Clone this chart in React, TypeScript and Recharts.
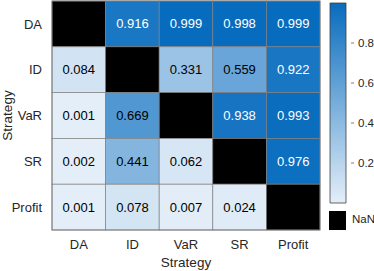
import { ScatterChart, Scatter, XAxis, YAxis, BarChart, Bar } from 'recharts';

// Strategy names (same order for rows and columns)
const strategies = ['DA', 'ID', 'VaR', 'SR', 'Profit'];

// matrix rows, null = NaN on the diagonal
const rowDA = [null, 0.916, 0.999, 0.998, 0.999];
const rowID = [0.084, null, 0.331, 0.559, 0.922];
const rowVaR = [0.001, 0.669, null, 0.938, 0.993];
const rowSR = [0.002, 0.441, 0.062, null, 0.976];
const rowProfit = [0.001, 0.078, 0.007, 0.024, null];
const matrix = [rowDA, rowID, rowVaR, rowSR, rowProfit];

const colorbarTicks = [0.2, 0.4, 0.6, 0.8];

const LIGHT = [228, 238, 248];
const DARK = [8, 108, 190];
const FONT = '"Liberation Sans", Arial, sans-serif';
const TXT = '#262626';

const W = 374;
const H = 271;
const PLOT_W = 268;
const PLOT_H = 229;
const CELL_W = PLOT_W / strategies.length;
const CELL_H = PLOT_H / strategies.length;

function colorFor(v: number) {
  const c = LIGHT.map((l, i) => Math.round(l + (DARK[i] - l) * v));
  return `rgb(${c[0]},${c[1]},${c[2]})`;
}

const cells = matrix.flatMap((row, r) =>
  row.map((v, c) => ({ x: c + 0.5, y: r + 0.5, v }))
);

const centers = strategies.map((_, i) => i + 0.5);
const nameAt = (t: number) => strategies[Math.floor(t)] ?? '';

function HeatCell(props: any) {
  const { cx, cy, payload } = props;
  const v = payload.v as number | null;
  const fill = v == null ? '#000000' : colorFor(v);
  return (
    <g>
      <rect
        x={cx - CELL_W / 2}
        y={cy - CELL_H / 2}
        width={CELL_W}
        height={CELL_H}
        fill={fill}
        stroke="#808080"
        strokeWidth={0.7}
      />
      {v != null && (
        <text
          x={cx}
          y={cy}
          textAnchor="middle"
          dominantBaseline="central"
          fontSize={13}
          fontFamily={FONT}
          fill={v > 0.8 ? '#ffffff' : '#000000'}
        >
          {v.toFixed(3)}
        </text>
      )}
    </g>
  );
}

// rotated y label, centred on the plot height
function YLabel(props: any) {
  const vb = props.viewBox || {};
  const x = 7;
  const y = vb.y + vb.height / 2;
  return (
    <text
      x={x}
      y={y}
      transform={`rotate(-90 ${x} ${y})`}
      textAnchor="middle"
      dominantBaseline="central"
      fontSize={13.5}
      fontFamily={FONT}
      fill={TXT}
    >
      Strategy
    </text>
  );
}

function ColorbarTick(props: any) {
  const { x, y, payload } = props;
  return (
    <g>
      <line x1={x - 3} x2={x} y1={y} y2={y} stroke={TXT} strokeWidth={0.6} />
      <text x={x + 4} y={y} dominantBaseline="central" fontSize={11.5} fontFamily={FONT} fill={TXT}>
        {payload.value}
      </text>
    </g>
  );
}

const colorbarData = [{ name: 'cb', range: [0, 1] }];

export default function App() {
  return (
    <div style={{ position: 'absolute', left: 0, top: 0, width: W, height: H, background: '#fff', overflow: 'hidden' }}>
      <div style={{ position: 'absolute', left: 0, top: 0 }}>
        <ScatterChart width={W} height={H} margin={{ top: 1, right: 54, bottom: 1, left: 12 }}>
          <XAxis
            type="number"
            dataKey="x"
            domain={[0, 5]}
            ticks={centers}
            tickFormatter={nameAt}
            axisLine={false}
            tickLine={false}
            height={40}
            tick={{ fontSize: 13, fontFamily: FONT, fill: TXT }}
            tickMargin={4}
            label={{ value: 'Strategy', position: 'insideBottom', offset: 3, fontSize: 13.5, fontFamily: FONT, fill: TXT }}
          />
          <YAxis
            type="number"
            dataKey="y"
            domain={[0, 5]}
            reversed
            ticks={centers}
            tickFormatter={nameAt}
            axisLine={false}
            tickLine={false}
            width={40}
            tick={{ fontSize: 13, fontFamily: FONT, fill: TXT }}
            tickMargin={4}
            label={<YLabel />}
          />
          <Scatter data={cells} shape={HeatCell} isAnimationActive={false} />
        </ScatterChart>
        <svg width={W} height={H} style={{ position: 'absolute', left: 0, top: 0, pointerEvents: 'none' }}>
          <rect x={52} y={1} width={PLOT_W} height={PLOT_H} fill="none" stroke="#707070" strokeWidth={0.8} />
        </svg>
      </div>
      <div style={{ position: 'absolute', left: 320, top: 0 }}>
        <BarChart
          width={54}
          height={H}
          data={colorbarData}
          margin={{ top: 3, right: 0, bottom: 68, left: 10 }}
          barCategoryGap={0}
        >
          <defs>
            <linearGradient id="cbGrad" x1="0" y1="1" x2="0" y2="0">
              <stop offset="0%" stopColor={colorFor(0)} />
              <stop offset="100%" stopColor={colorFor(1)} />
            </linearGradient>
          </defs>
          <XAxis dataKey="name" hide />
          <YAxis
            orientation="right"
            domain={[0, 1]}
            ticks={colorbarTicks}
            width={28}
            axisLine={false}
            tickLine={false}
            tick={<ColorbarTick />}
          />
          <Bar dataKey="range" fill="url(#cbGrad)" stroke="#404040" strokeWidth={0.8} isAnimationActive={false} />
        </BarChart>
        <div style={{ position: 'absolute', left: 9, top: 211, width: 17, height: 19, background: '#000' }} />
        <div style={{ position: 'absolute', left: 32, top: 213, fontSize: 11.5, fontFamily: FONT, color: TXT }}>NaN</div>
      </div>
    </div>
  );
}
